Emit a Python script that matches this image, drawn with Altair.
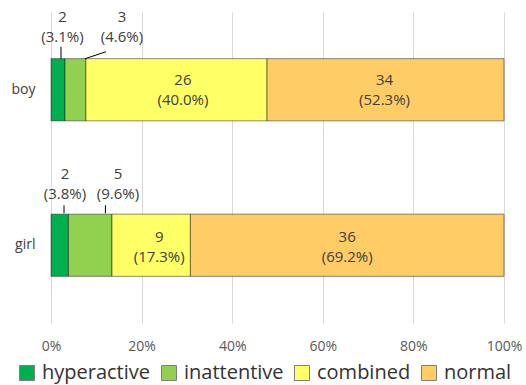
import altair as alt
import pandas as pd

# ---- data ----
categories = ["boy", "girl"]
series = ["hyperactive", "inattentive", "combined", "normal"]
boy_counts = [2, 3, 26, 34]
girl_counts = [2, 5, 9, 36]
colors = ["#00B050", "#92D050", "#FFFF66", "#FFCC66"]
tick_values = [0, 0.2, 0.4, 0.6, 0.8, 1.0]

counts = {"boy": boy_counts, "girl": girl_counts}

rows = []
for cat in categories:
    vals = counts[cat]
    total = sum(vals)
    cum = 0
    for s, v in zip(series, vals):
        start = cum / total
        cum += v
        end = cum / total
        rows.append({
            "cat": cat, "series": s, "value": v,
            "start": start, "end": end, "mid": (start + end) / 2,
            "label": f"{v}\n({v / total * 100:.1f}%)",
        })
df = pd.DataFrame(rows)

# ---- styling / layout ----
PLOT_W, PLOT_H = 453, 311
FONT = "Open Sans"
LINE_SHIFT = -10  # first line of a two-line label sits at the anchor

# label offsets in pixels from segment middle (dx) and band centre (dy)
label_style = {
    ("boy", "hyperactive"): (4.5, -62.5),
    ("boy", "inattentive"): (46.6, -62.5),
    ("boy", "combined"): (6.5, 0),
    ("boy", "normal"): (-1, 0),
    ("girl", "hyperactive"): (5.3, -61.5),
    ("girl", "inattentive"): (27.8, -61.5),
    ("girl", "combined"): (8, 2),
    ("girl", "normal"): (0, 2),
}
# leader lines: (x offset of top from seg start, x offset of bottom, y top, y bottom)
leader_style = {
    ("boy", "hyperactive"): (10, 10, -43, -31),
    ("boy", "inattentive"): (41, 20, -38, -31),
    ("girl", "hyperactive"): (13, 13, -40, -32),
    ("girl", "inattentive"): (37, 37, -40, -32),
}

xscale = alt.Scale(domain=[0, 1], nice=False, zero=True)
yscale = alt.Scale(domain=categories, paddingInner=0.6, paddingOuter=0.3)

base = alt.Chart(df)

bars = base.mark_bar(stroke="#000000", strokeOpacity=0.45, strokeWidth=1).encode(
    x=alt.X("start:Q", scale=xscale,
            axis=alt.Axis(values=tick_values, format=".0%", title=None,
                          grid=True, gridColor="#D9D9D9", gridWidth=1,
                          domain=False, ticks=False, labelFont=FONT,
                          labelFontSize=14, labelColor="#595959",
                          labelPadding=16, labelFlush=False)),
    x2="end:Q",
    y=alt.Y("cat:N", scale=yscale,
            axis=alt.Axis(title=None, domain=False, ticks=False,
                          labelFont=FONT, labelFontSize=14,
                          labelColor="#404040", labelPadding=16)),
    color=alt.Color("series:N",
                    scale=alt.Scale(domain=series, range=colors),
                    legend=alt.Legend(
                        title=None, orient="none", direction="horizontal",
                        legendX=-34, legendY=351, columns=4,
                        symbolType="square", symbolSize=225,
                        symbolStrokeColor="#7F7F7F", symbolStrokeWidth=1,
                        labelFont=FONT, labelFontSize=20, labelColor="#333333",
                        labelOffset=5, columnPadding=8, padding=0,
                        labelExpr="datum.label == 'inattentive' ? '\u00a0inattentive' : datum.label",
                    )),
)

layers = [bars]

for (cat, s), (dx, dy) in label_style.items():
    t = base.transform_filter(
        (alt.datum.cat == cat) & (alt.datum.series == s)
    ).mark_text(
        font=FONT, fontSize=15, color="#404040", lineBreak="\n",
        lineHeight=20, baseline="middle", align="center", dx=dx,
        dy=dy + LINE_SHIFT,
    ).encode(
        x=alt.X("mid:Q", scale=xscale),
        y=alt.Y("cat:N", scale=yscale),
        text="label:N",
    )
    layers.append(t)

for (cat, s), (xt, xb, yt, yb) in leader_style.items():
    r = base.transform_filter(
        (alt.datum.cat == cat) & (alt.datum.series == s)
    ).mark_rule(
        color="#000000", strokeWidth=1,
        xOffset=xt, x2Offset=xb, yOffset=yt, y2Offset=yb,
    ).encode(
        x=alt.X("start:Q", scale=xscale),
        x2="start:Q",
        y=alt.Y("cat:N", scale=yscale),
        y2="cat:N",
    )
    layers.append(r)

chart = alt.layer(*layers).properties(
    width=PLOT_W, height=PLOT_H,
    padding={"left": 51, "top": 12, "right": 22, "bottom": 62},
    autosize="none",
).configure_view(strokeWidth=0)

chart.save("out.html", embed_options={"renderer": "svg", "actions": False})
